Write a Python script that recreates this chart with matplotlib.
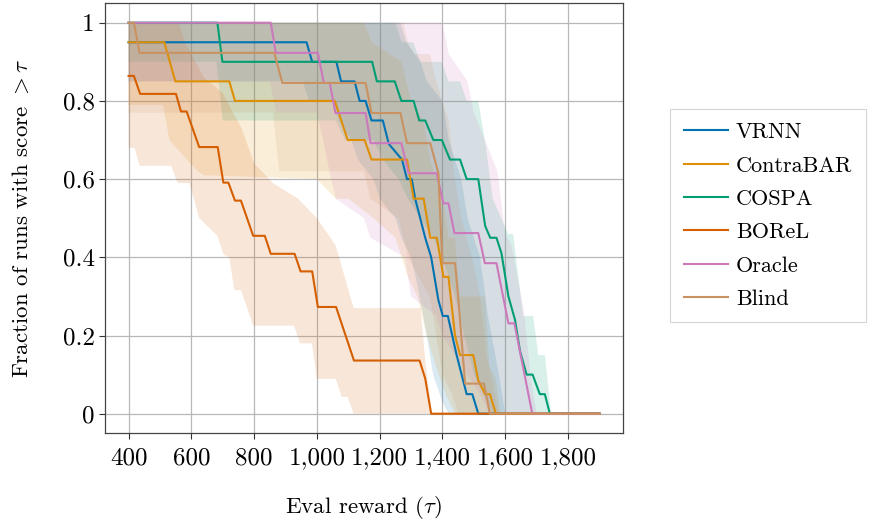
import numpy as np
import matplotlib.pyplot as plt
from matplotlib.ticker import FuncFormatter

#--- DATA ---#

methods = ["VRNN", "ContraBAR", "COSPA", "BOReL", "Oracle", "Blind"]
colors = ["#0173B2", "#DE8F05", "#029E73", "#D55E00", "#CC78BC", "#CA9161"]

# mean curves (eval reward, fraction of runs with score > tau)
vrnn_x = [400, 967, 985, 1062, 1077, 1120, 1136, 1155, 1174, 1210, 1229, 1271, 1287, 1302, 1313,
          1329, 1345, 1364, 1387, 1401, 1417, 1445, 1461, 1477, 1495, 1514, 1900]
vrnn_y = [0.95, 0.95, 0.9, 0.9, 0.85, 0.85, 0.8, 0.8, 0.75, 0.75, 0.69, 0.65, 0.6, 0.6, 0.55,
          0.5, 0.45, 0.4, 0.29, 0.25, 0.25, 0.15, 0.1, 0.05, 0.05, 0.0, 0.0]

contrabar_x = [400, 514, 549, 721, 739, 1057, 1098, 1152, 1174, 1287, 1308, 1340, 1361, 1382,
               1403, 1419, 1440, 1456, 1498, 1514, 1536, 1551, 1570, 1900]
contrabar_y = [0.95, 0.95, 0.85, 0.85, 0.8, 0.8, 0.7, 0.7, 0.65, 0.65, 0.55, 0.55, 0.45, 0.45,
               0.35, 0.35, 0.2, 0.15, 0.15, 0.085, 0.05, 0.05, 0.0, 0.0]

cospa_x = [400, 683, 699, 1176, 1191, 1248, 1269, 1308, 1326, 1345, 1371, 1398, 1424, 1456, 1477,
           1514, 1536, 1552, 1572, 1588, 1610, 1631, 1647, 1668, 1687, 1710, 1726, 1742, 1900]
cospa_y = [1.0, 1.0, 0.9, 0.9, 0.85, 0.85, 0.8, 0.8, 0.75, 0.75, 0.7, 0.7, 0.65, 0.65, 0.6,
           0.6, 0.48, 0.45, 0.45, 0.41, 0.3, 0.24, 0.16, 0.1, 0.1, 0.05, 0.05, 0.0, 0.0]

borel_x = [400, 417, 437, 551, 567, 585, 625, 684, 702, 718, 739, 758, 797, 834, 853, 929, 948,
           985, 1003, 1061, 1118, 1327, 1345, 1364, 1900]
borel_y = [0.864, 0.864, 0.818, 0.818, 0.773, 0.773, 0.682, 0.682, 0.591, 0.591, 0.545, 0.545,
           0.455, 0.455, 0.409, 0.409, 0.364, 0.364, 0.273, 0.273, 0.136, 0.136, 0.09, 0.0, 0.0]

oracle_x = [400, 853, 869, 1003, 1022, 1041, 1059, 1155, 1171, 1269, 1292, 1381, 1403, 1419,
            1438, 1514, 1535, 1572, 1610, 1629, 1686, 1900]
oracle_y = [1.0, 1.0, 0.923, 0.923, 0.846, 0.846, 0.769, 0.769, 0.692, 0.692, 0.615, 0.615,
            0.538, 0.538, 0.462, 0.462, 0.385, 0.385, 0.231, 0.231, 0.0, 0.0]

blind_x = [400, 417, 435, 864, 890, 1155, 1174, 1266, 1287, 1361, 1387, 1393, 1400, 1440, 1449,
           1472, 1532, 1551, 1900]
blind_y = [1.0, 1.0, 0.923, 0.923, 0.846, 0.846, 0.769, 0.769, 0.692, 0.692, 0.615, 0.5, 0.385,
           0.385, 0.308, 0.077, 0.077, 0.0, 0.0]

# confidence bands: upper and lower edges
vrnn_up_x = [400, 1265, 1285, 1330, 1350, 1400, 1420, 1460, 1480, 1520, 1545, 1580, 1600, 1900]
vrnn_up_y = [1.0, 1.0, 0.95, 0.9, 0.85, 0.8, 0.7, 0.6, 0.5, 0.4, 0.25, 0.1, 0.0, 0.0]
vrnn_lo_x = [400, 955, 975, 1050, 1070, 1110, 1130, 1180, 1200, 1250, 1270, 1300, 1320, 1350,
             1370, 1400, 1420, 1900]
vrnn_lo_y = [0.85, 0.85, 0.8, 0.8, 0.75, 0.7, 0.65, 0.6, 0.55, 0.5, 0.45, 0.4, 0.33, 0.2, 0.1,
             0.03, 0.0, 0.0]

contrabar_up_x = [400, 1150, 1175, 1270, 1300, 1340, 1360, 1400, 1420, 1440, 1455, 1535, 1550,
                  1570, 1585, 1900]
contrabar_up_y = [1.0, 1.0, 0.95, 0.9, 0.8, 0.75, 0.65, 0.55, 0.45, 0.45, 0.3, 0.3, 0.12, 0.09,
                  0.0, 0.0]
contrabar_lo_x = [400, 510, 530, 620, 640, 1000, 1060, 1100, 1180, 1250, 1290, 1320, 1350, 1380,
                  1410, 1440, 1900]
contrabar_lo_y = [0.79, 0.79, 0.7, 0.62, 0.61, 0.6, 0.55, 0.55, 0.5, 0.45, 0.35, 0.3, 0.2, 0.12,
                  0.05, 0.0, 0.0]

cospa_up_x = [400, 1250, 1270, 1307, 1330, 1397, 1419, 1456, 1477, 1514, 1537, 1560, 1609, 1625,
              1657, 1689, 1705, 1726, 1746, 1900]
cospa_up_y = [1.0, 1.0, 0.95, 0.95, 0.9, 0.9, 0.85, 0.85, 0.8, 0.8, 0.69, 0.55, 0.46, 0.46,
              0.25, 0.25, 0.15, 0.15, 0.0, 0.0]
cospa_lo_x = [400, 680, 700, 1060, 1090, 1180, 1210, 1260, 1290, 1330, 1370, 1400, 1440, 1470,
              1500, 1530, 1560, 1900]
cospa_lo_y = [0.9, 0.9, 0.75, 0.75, 0.7, 0.7, 0.65, 0.6, 0.55, 0.5, 0.45, 0.4, 0.3, 0.2, 0.1,
              0.05, 0.0, 0.0]

borel_up_x = [400, 560, 580, 640, 700, 760, 800, 860, 940, 1000, 1060, 1117, 1330, 1345, 1365, 1900]
borel_up_y = [1.0, 1.0, 0.95, 0.86, 0.82, 0.73, 0.64, 0.59, 0.55, 0.5, 0.43, 0.27, 0.27, 0.14,
              0.0, 0.0]
borel_lo_x = [400, 419, 435, 536, 556, 594, 625, 683, 702, 721, 737, 758, 797, 927, 946, 984,
              1000, 1060, 1079, 1098, 1117, 1900]
borel_lo_y = [0.68, 0.68, 0.634, 0.634, 0.59, 0.59, 0.5, 0.455, 0.408, 0.4, 0.316, 0.316, 0.225,
              0.225, 0.18, 0.18, 0.089, 0.089, 0.043, 0.043, 0.0, 0.0]

oracle_up_x = [400, 1400, 1420, 1480, 1500, 1540, 1575, 1600, 1620, 1660, 1680, 1700, 1900]
oracle_up_y = [1.0, 1.0, 0.92, 0.85, 0.77, 0.69, 0.62, 0.46, 0.43, 0.26, 0.1, 0.0, 0.0]
oracle_lo_x = [400, 850, 870, 1000, 1020, 1040, 1060, 1150, 1170, 1280, 1300, 1380, 1400, 1440,
               1480, 1520, 1550, 1900]
oracle_lo_y = [0.85, 0.85, 0.77, 0.77, 0.7, 0.62, 0.55, 0.5, 0.45, 0.4, 0.3, 0.25, 0.2, 0.15,
               0.1, 0.05, 0.0, 0.0]

blind_up_x = [400, 1276, 1290, 1310, 1360, 1380, 1420, 1440, 1460, 1500, 1520, 1540, 1560, 1580, 1900]
blind_up_y = [1.0, 1.0, 0.95, 0.92, 0.92, 0.85, 0.75, 0.6, 0.5, 0.38, 0.3, 0.15, 0.08, 0.0, 0.0]
blind_lo_x = [400, 860, 880, 1150, 1170, 1260, 1290, 1360, 1380, 1400, 1430, 1450, 1900]
blind_lo_y = [0.77, 0.77, 0.62, 0.62, 0.55, 0.5, 0.4, 0.3, 0.2, 0.1, 0.05, 0.0, 0.0]

curves = [(vrnn_x, vrnn_y), (contrabar_x, contrabar_y), (cospa_x, cospa_y),
          (borel_x, borel_y), (oracle_x, oracle_y), (blind_x, blind_y)]
bands = [(vrnn_up_x, vrnn_up_y, vrnn_lo_x, vrnn_lo_y),
         (contrabar_up_x, contrabar_up_y, contrabar_lo_x, contrabar_lo_y),
         (cospa_up_x, cospa_up_y, cospa_lo_x, cospa_lo_y),
         (borel_up_x, borel_up_y, borel_lo_x, borel_lo_y),
         (oracle_up_x, oracle_up_y, oracle_lo_x, oracle_lo_y),
         (blind_up_x, blind_up_y, blind_lo_x, blind_lo_y)]

xticks = [400, 600, 800, 1000, 1200, 1400, 1600, 1800]
yticks = [0, 0.2, 0.4, 0.6, 0.8, 1]

#--- PLOT ---#

plt.rcParams['font.family'] = ['cmr10', 'DejaVu Serif']
plt.rcParams['mathtext.fontset'] = 'cm'
plt.rcParams['axes.formatter.use_mathtext'] = True

fig = plt.figure(figsize=(8.75, 5.29), dpi=100)
ax = fig.add_axes([0.12, 0.181, 0.592, 0.813])

for (ux, uy, lx, ly), c in zip(bands, colors):
    px = np.concatenate([ux, lx[::-1]])
    py = np.concatenate([uy, ly[::-1]])
    ax.fill(px, py, color=c, alpha=0.15, lw=0)

for (x, y), c, name in zip(curves, colors, methods):
    ax.plot(x, y, color=c, lw=1.5, label=name)

ax.set_xlim(325, 1975)
ax.set_ylim(-0.05, 1.05)
ax.set_xticks(xticks)
ax.set_yticks(yticks)
ax.xaxis.set_major_formatter(FuncFormatter(lambda v, p: "{:,}".format(int(v))))
ax.yaxis.set_major_formatter(FuncFormatter(lambda v, p: "{:g}".format(v)))
ax.tick_params(labelsize=18, length=4, width=0.8, color="#333333")
ax.tick_params(axis="x", pad=6)
ax.grid(True, color="#b8b8b8", lw=0.9)
ax.set_axisbelow(True)
for s in ax.spines.values():
    s.set_color("#444444")
    s.set_linewidth(0.9)

ax.set_xlabel(r"Eval reward ($\tau$)", fontsize=16.5, labelpad=18)
ax.set_ylabel(r"Fraction of runs with score $>\tau$", fontsize=16.5, labelpad=22)

leg = fig.legend(loc="center left", bbox_to_anchor=(0.766, 0.592), fontsize=16,
                 frameon=True, fancybox=False, edgecolor="#cccccc", handlelength=2.0,
                 labelspacing=0.62, borderpad=0.6, handletextpad=0.35, borderaxespad=0)
leg.get_frame().set_linewidth(0.8)

plt.savefig("out.png", dpi=100)
